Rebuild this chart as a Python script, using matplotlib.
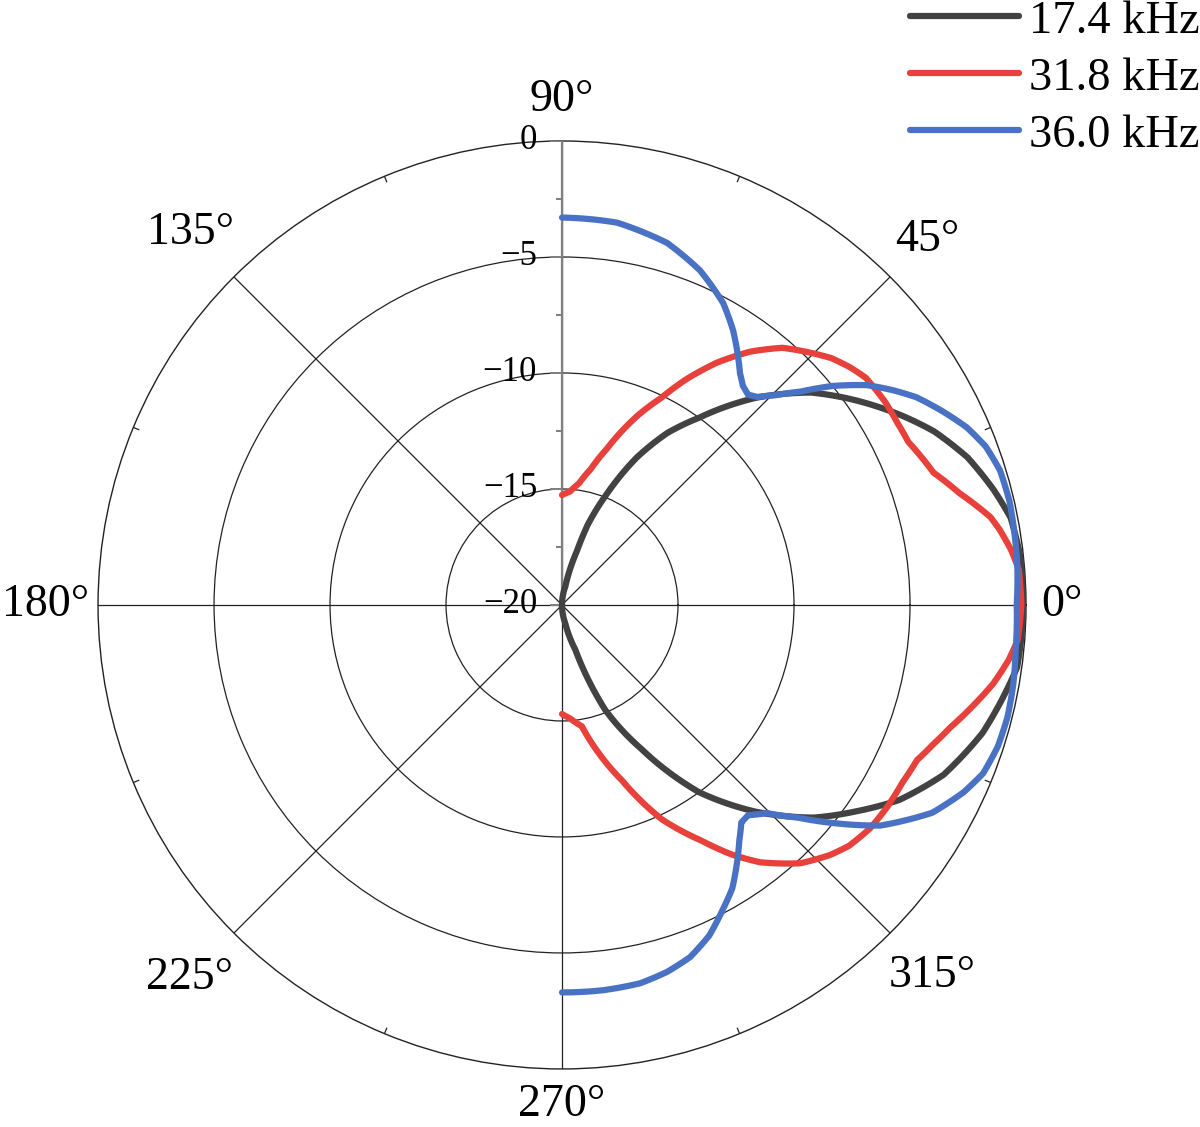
import numpy as np
import matplotlib
matplotlib.use('Agg')
import matplotlib.pyplot as plt

plt.rcParams['font.family'] = ['Liberation Serif', 'DejaVu Serif']

# directivity readings, angle in degrees, level in dB
ang_174 = [-90, -80, -73.5, -67.6, -61.1, -53.8, -46.9, -40.2, -35, -30, -24, -16.9, -7.8, 0,
           5, 11, 15, 20, 25, 29, 35, 40.5, 47, 53.8, 58.5, 63.2, 68.2, 72.3, 74.6, 80, 90]
db_174 = [-20, -19.2, -18.0, -15.1, -12.9, -10.0, -7.8, -5.8, -4.5, -3.2, -2.0, -1.05, -0.2, -0.1,
          -0.1, -0.3, -0.75, -1.4, -2.3, -3.2, -4.6, -5.9, -7.8, -10.0, -11.3, -12.9, -14.9, -16.4,
          -17.6, -19.2, -20]

ang_318 = [-90, -86, -80.7, -76, -71.1, -65, -59.4, -55.8, -52.4, -47.3, -43, -40, -36,
           -31.9, -27.5, -23.6, -20.5, -17.5, -14, -10.3, -7, -4.4, 0, 4.4, 7, 9.7, 11.6,
           15.7, 19.6, 25.2, 28.5, 32.2, 36.8, 39.5, 42.5, 45.5, 49.4, 53.4, 57.4, 61.3,
           64.4, 68.2, 74, 78, 82, 86, 90]
db_318 = [-15.3, -15.1, -14.7, -13.4, -12.0, -9.8, -8.2, -7.0, -6.0, -4.85, -4.2, -3.85, -3.6,
          -3.5, -3.45, -3.3, -2.9, -2.45, -1.8, -1.1, -0.6, -0.3, -0.2, -0.25, -0.5, -0.85, -1.15,
          -2.2, -3.0, -3.5, -3.55, -3.55, -3.65, -3.9, -4.25, -4.75, -5.4, -6.4, -7.6, -8.94,
          -10.1, -11.2, -13.0, -14.0, -14.7, -15.1, -15.26]

ang_360 = [-90, -84, -78.3, -74, -70, -66, -62.2, -59, -56.3, -53, -50.5, -48.5, -45.4, -42,
           -38.8, -34.7, -29.3, -25, -21.8, -18, -14.1, -10, -5.7, 0, 5, 9.4, 13, 17.1, 20.5,
           23.7, 27, 30.4, 33, 35.8, 39, 41.8, 44.5, 46.8, 48.5, 50.5, 52.5, 55, 58.1, 61.9,
           67.6, 73.8, 81.8, 90]
db_360 = [-3.3, -3.3, -3.35, -3.55, -3.85, -4.4, -5.15, -5.75, -6.45, -7.3, -7.85, -7.9, -7.4, -6.3,
          -5.0, -3.3, -1.7, -0.9, -0.45, -0.25, -0.2, -0.25, -0.35, -0.4, -0.3, -0.25, -0.2, -0.25, -0.5,
          -0.95, -1.6, -2.3, -3.0, -3.8, -5.0, -6.2, -7.1, -7.7, -7.9, -7.75, -7.4, -6.8, -6.05, -5.25,
          -4.4, -3.75, -3.35, -3.3]

series = [
    ('17.4 kHz', ang_174, db_174, '#424242'),
    ('31.8 kHz', ang_318, db_318, '#E8403A'),
    ('36.0 kHz', ang_360, db_360, '#4A72C4'),
]

r_ticks = [-20, -15, -10, -5, 0]
r_labels = ['\u221220', '\u221215', '\u221210', '\u22125', '0']
theta_ticks = [0, 45, 90, 135, 180, 225, 270, 315]
theta_labels = ['0\u00b0', '45\u00b0', '90\u00b0', '135\u00b0', '180\u00b0', '225\u00b0', '270\u00b0', '315\u00b0']
# distance of each angle label centre from the plot centre, in pixels
theta_label_px = [500, 516, 505, 526, 516, 527, 500, 524]


def main():
    fig = plt.figure(figsize=(12, 11.27), dpi=100)
    ax = fig.add_axes([0.0817, 0.0515, 0.7733, 0.8234], projection='polar')
    ax.set_ylim(-20, 0)
    ax.set_thetagrids(theta_ticks, labels=[''] * len(theta_ticks))
    ax.set_rgrids([-15, -10, -5], labels=['', '', ''])
    ax.grid(True, color='#222222', lw=0.9)
    ax.spines['polar'].set_color('#222222')
    ax.spines['polar'].set_linewidth(1.0)
    ax.tick_params(axis='both', length=0)

    px_per_db = 464 / 20.0

    # outer minor ticks at 22.5 deg offsets
    for a in np.arange(22.5, 360, 45):
        ax.plot([np.deg2rad(a)] * 2, [-0.25, 0], color='#222222', lw=0.9)

    # radial axis along 90 deg
    ax.plot([np.pi / 2] * 2, [-20, 0], color='#808080', lw=1.6, zorder=3)
    for v in np.arange(-20, 0.1, 2.5):
        major = v % 5 == 0
        ax.plot(np.pi / 2, v, marker=0, markersize=8.5 if major else 4.5,
                markeredgewidth=1.2, color='#808080', zorder=3)
    for v, lab in zip(r_ticks, r_labels):
        ax.annotate(lab, xy=(np.pi / 2, v), xytext=(-18, 0), textcoords='offset points',
                    ha='right', va='center', fontsize=25)

    for a, lab, rp in zip(theta_ticks, theta_labels, theta_label_px):
        ax.text(np.deg2rad(a), -20 + rp / px_per_db, lab, ha='center', va='center',
                fontsize=33, clip_on=False)

    for name, ang, db, col in series:
        line, = ax.plot(np.deg2rad(ang), db, color=col, lw=4.5, label=name,
                        solid_capstyle='round', solid_joinstyle='round', zorder=4)
        # let the polar transform bend segments along arcs
        line._path._interpolation_steps = 24

    fig.legend(loc='upper right', bbox_to_anchor=(1.0, 1.0), frameon=False,
               fontsize=33.5, handlelength=2.35, handletextpad=0.22, labelspacing=0.31,
               borderpad=0.0, borderaxespad=0.0)

    fig.savefig('out.png', dpi=100)


if __name__ == '__main__':
    main()
